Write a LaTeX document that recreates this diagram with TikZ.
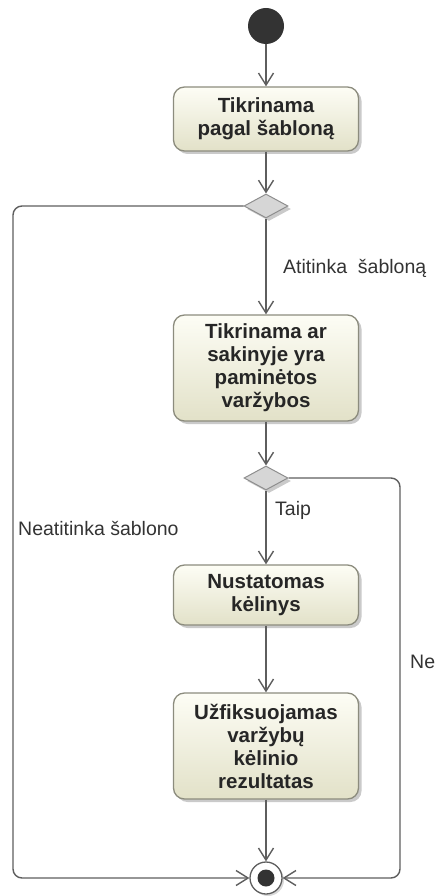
\documentclass[tikz,border=0pt]{standalone}
\usepackage{fontspec}
\setmainfont{Liberation Sans}
\usetikzlibrary{arrows.meta,shapes.geometric,shadows}
\definecolor{edgecol}{HTML}{5E5E5E}
\definecolor{boxtop}{HTML}{FDFDF5}
\definecolor{boxbot}{HTML}{E2E1C8}
\definecolor{boxline}{HTML}{8C8C7E}
\definecolor{decfill}{HTML}{D6D6D6}
\definecolor{inkcol}{HTML}{262626}
\definecolor{dotcol}{HTML}{333333}

\begin{document}
\begin{tikzpicture}[x=1pt,y=-1pt,
  softshadow/.style={drop shadow={shadow xshift=3pt,shadow yshift=-3pt,opacity=0.35,fill=black!60}},
  action/.style={draw=boxline,line width=1.3pt,rounded corners=11pt,
    minimum width=185pt,inner sep=3pt,
    top color=boxtop,bottom color=boxbot,
    font=\bfseries\fontsize{20.5}{23}\selectfont,text=inkcol,align=center,
    softshadow},
  decision/.style={diamond,draw=edgecol!70,line width=1pt,fill=decfill,
    minimum width=44pt,minimum height=24pt,inner sep=0pt,softshadow},
  flow/.style={draw=edgecol,line width=1.4pt,
    -{Straight Barb[length=12pt,width=15pt]}},
  loopflow/.style={flow,rounded corners=9pt},
  guard/.style={font=\fontsize{19.5}{23}\selectfont,text=dotcol,inner sep=0pt}]

\useasboundingbox (0,0) rectangle (437,896);

% initial and final nodes
\node[circle,fill=dotcol,minimum size=36pt,inner sep=0pt] (init) at (266,26) {};
\node[circle,draw=edgecol,line width=1.3pt,fill=white,minimum size=32pt,inner sep=0pt,
      drop shadow={shadow xshift=2pt,shadow yshift=-2pt,opacity=0.3}] (fin) at (266,878) {};
\node[circle,fill=dotcol,minimum size=17pt,inner sep=0pt] (findot) at (fin.center) {};

% actions
\node[action,minimum height=64pt] (b1) at (266,119) {Tikrinama\\pagal šabloną};
\node[action,minimum height=106pt] (b2) at (266,368) {Tikrinama ar\\sakinyje yra\\paminėtos\\varžybos};
\node[action,minimum height=60pt] (b3) at (266,595) {Nustatomas\\kėlinys};
\node[action,minimum height=106pt] (b4) at (266,746) {Užfiksuojamas\\varžybų\\kėlinio\\rezultatas};

% decisions
\node[decision] (d1) at (266,206) {};
\node[decision] (d2) at (266,478) {};

% corners of the two loops
\coordinate (lt) at (13,206);
\coordinate (lb) at (13,878);
\coordinate (rt) at (400,478);
\coordinate (rb) at (400,878);

% main flow
\draw[flow] (init) -- (b1);
\draw[flow] (b1) -- (d1);
\draw[flow] (d1) -- (b2);
\draw[flow] (b2) -- (d2);
\draw[flow] (d2) -- (b3);
\draw[flow] (b3) -- (b4);
\draw[flow] (b4) -- (fin);

% alternative branches
\draw[loopflow] (d1.west) -- (lt) -- (lb) -- (fin.west);
\draw[loopflow] (d2.east) -- (rt) -- (rb) -- (fin.east);

% guards
\node[guard,anchor=west] (g1) at (283,268) {Atitinka~ šabloną};
\node[guard,anchor=west] (g2) at (18,528) {Neatitinka šablono};
\node[guard,anchor=west] (g3) at (275,510) {Taip};
\node[guard,anchor=west] (g4) at (410,662) {Ne};

\end{tikzpicture}
\end{document}
